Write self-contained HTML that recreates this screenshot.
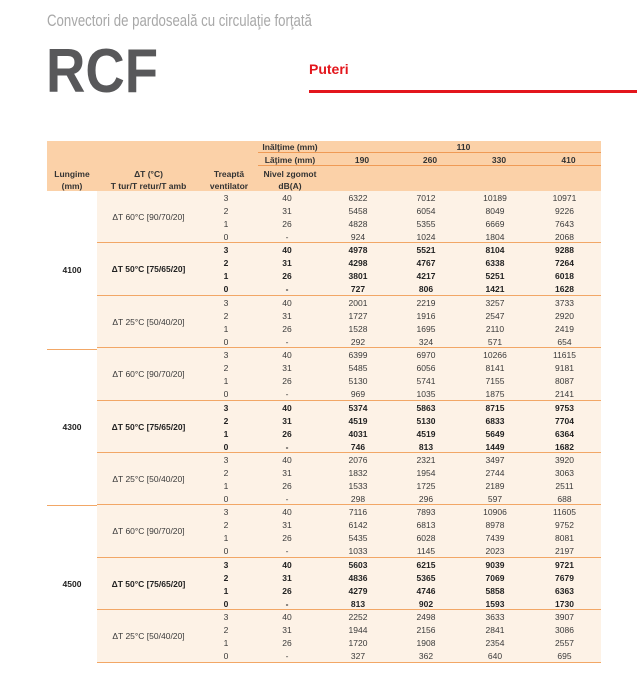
<!DOCTYPE html>
<html><head><meta charset="utf-8"><style>
body{margin:0;width:637px;height:700px;background:#fff;position:relative;overflow:hidden;font-family:"Liberation Sans",sans-serif;color:#3a3a3a}
.a{position:absolute}
.g{position:absolute;left:97px;width:504px;height:52.4px;background:#fdf2e6;border-bottom:1px solid #f2a766;box-sizing:border-box;font-size:8.5px}
.lab{position:absolute;left:0;width:103px;top:0;height:52px;line-height:52px;text-align:center}
.r{position:absolute;left:103px;height:13px;line-height:13px;display:flex}
.r span{text-align:center}
.r span:nth-child(1){width:52px}
.r span:nth-child(2){width:70px}
.r span:nth-child(3){width:72px}
.r span:nth-child(4){width:64px}
.r span:nth-child(5){width:74px}
.r span:nth-child(6){width:65px}
.b{font-weight:bold;color:#222}
.h{position:absolute;font-size:8.5px;font-weight:bold;color:#333;text-align:center}
.len{position:absolute;left:47px;width:50px;text-align:center;font-size:8.5px;font-weight:bold;color:#222}
</style></head><body>
<div class="a" style="left:47px;top:12px;font-size:16.5px;color:#a8a8a8;transform:scaleX(0.8);transform-origin:0 0;white-space:nowrap">Convectori de pardoseală cu circulaţie forţată</div>
<div class="a" style="left:46px;top:36px;font-size:62px;font-weight:bold;color:#58585a;transform:scaleX(0.88);transform-origin:0 0">RCF</div>
<div class="a" style="left:309px;top:61px;font-size:14px;font-weight:bold;color:#e3161c">Puteri</div>
<div class="a" style="left:309px;top:90px;width:328px;height:3px;background:#e3161c"></div>

<div class="a" style="left:47px;top:141px;width:554px;height:50px;background:#fbd1a8"></div>
<div class="a" style="left:258px;top:152px;width:343px;height:1px;background:#ef9a55"></div>
<div class="a" style="left:258px;top:165px;width:343px;height:1px;background:#ef9a55"></div>
<div class="h" style="left:258px;top:142px;width:64px">Inălţime (mm)</div>
<div class="h" style="left:326px;top:142px;width:275px">110</div>
<div class="h" style="left:258px;top:155px;width:64px">Lăţime (mm)</div>
<div class="h" style="left:326px;top:155px;width:72px">190</div>
<div class="h" style="left:398px;top:155px;width:64px">260</div>
<div class="h" style="left:462px;top:155px;width:74px">330</div>
<div class="h" style="left:536px;top:155px;width:65px">410</div>
<div class="h" style="left:255px;top:168px;width:70px;line-height:12px">Nivel zgomot<br>dB(A)</div>
<div class="h" style="left:200px;top:168px;width:58px;line-height:12px">Treaptă<br>ventilator</div>
<div class="h" style="left:97px;top:168px;width:103px;line-height:12px">ΔT (°C)<br>T tur/T retur/T amb</div>
<div class="h" style="left:47px;top:168px;width:50px;line-height:12px">Lungime<br>(mm)</div>

<div class="a" style="left:47px;top:349px;width:50px;height:1px;background:#f2a766"></div>
<div class="a" style="left:47px;top:505px;width:50px;height:1px;background:#f2a766"></div>
<div class="len" style="top:265px">4100</div>
<div class="len" style="top:422px">4300</div>
<div class="len" style="top:579px">4500</div>

<!-- 4100 -->
<div class="g" style="top:191px"><div class="lab">ΔT 60°C [90/70/20]</div>
<div class="r" style="top:1px"><span>3</span><span>40</span><span>6322</span><span>7012</span><span>10189</span><span>10971</span></div>
<div class="r" style="top:14px"><span>2</span><span>31</span><span>5458</span><span>6054</span><span>8049</span><span>9226</span></div>
<div class="r" style="top:27px"><span>1</span><span>26</span><span>4828</span><span>5355</span><span>6669</span><span>7643</span></div>
<div class="r" style="top:40px"><span>0</span><span>-</span><span>924</span><span>1024</span><span>1804</span><span>2068</span></div></div>
<div class="g b" style="top:243.4px"><div class="lab">ΔT 50°C [75/65/20]</div>
<div class="r" style="top:1px"><span>3</span><span>40</span><span>4978</span><span>5521</span><span>8104</span><span>9288</span></div>
<div class="r" style="top:14px"><span>2</span><span>31</span><span>4298</span><span>4767</span><span>6338</span><span>7264</span></div>
<div class="r" style="top:27px"><span>1</span><span>26</span><span>3801</span><span>4217</span><span>5251</span><span>6018</span></div>
<div class="r" style="top:40px"><span>0</span><span>-</span><span>727</span><span>806</span><span>1421</span><span>1628</span></div></div>
<div class="g" style="top:295.8px"><div class="lab">ΔT 25°C [50/40/20]</div>
<div class="r" style="top:1px"><span>3</span><span>40</span><span>2001</span><span>2219</span><span>3257</span><span>3733</span></div>
<div class="r" style="top:14px"><span>2</span><span>31</span><span>1727</span><span>1916</span><span>2547</span><span>2920</span></div>
<div class="r" style="top:27px"><span>1</span><span>26</span><span>1528</span><span>1695</span><span>2110</span><span>2419</span></div>
<div class="r" style="top:40px"><span>0</span><span>-</span><span>292</span><span>324</span><span>571</span><span>654</span></div></div>
<!-- 4300 -->
<div class="g" style="top:348.2px"><div class="lab">ΔT 60°C [90/70/20]</div>
<div class="r" style="top:1px"><span>3</span><span>40</span><span>6399</span><span>6970</span><span>10266</span><span>11615</span></div>
<div class="r" style="top:14px"><span>2</span><span>31</span><span>5485</span><span>6056</span><span>8141</span><span>9181</span></div>
<div class="r" style="top:27px"><span>1</span><span>26</span><span>5130</span><span>5741</span><span>7155</span><span>8087</span></div>
<div class="r" style="top:40px"><span>0</span><span>-</span><span>969</span><span>1035</span><span>1875</span><span>2141</span></div></div>
<div class="g b" style="top:400.6px"><div class="lab">ΔT 50°C [75/65/20]</div>
<div class="r" style="top:1px"><span>3</span><span>40</span><span>5374</span><span>5863</span><span>8715</span><span>9753</span></div>
<div class="r" style="top:14px"><span>2</span><span>31</span><span>4519</span><span>5130</span><span>6833</span><span>7704</span></div>
<div class="r" style="top:27px"><span>1</span><span>26</span><span>4031</span><span>4519</span><span>5649</span><span>6364</span></div>
<div class="r" style="top:40px"><span>0</span><span>-</span><span>746</span><span>813</span><span>1449</span><span>1682</span></div></div>
<div class="g" style="top:453px"><div class="lab">ΔT 25°C [50/40/20]</div>
<div class="r" style="top:1px"><span>3</span><span>40</span><span>2076</span><span>2321</span><span>3497</span><span>3920</span></div>
<div class="r" style="top:14px"><span>2</span><span>31</span><span>1832</span><span>1954</span><span>2744</span><span>3063</span></div>
<div class="r" style="top:27px"><span>1</span><span>26</span><span>1533</span><span>1725</span><span>2189</span><span>2511</span></div>
<div class="r" style="top:40px"><span>0</span><span>-</span><span>298</span><span>296</span><span>597</span><span>688</span></div></div>
<!-- 4500 -->
<div class="g" style="top:505.4px"><div class="lab">ΔT 60°C [90/70/20]</div>
<div class="r" style="top:1px"><span>3</span><span>40</span><span>7116</span><span>7893</span><span>10906</span><span>11605</span></div>
<div class="r" style="top:14px"><span>2</span><span>31</span><span>6142</span><span>6813</span><span>8978</span><span>9752</span></div>
<div class="r" style="top:27px"><span>1</span><span>26</span><span>5435</span><span>6028</span><span>7439</span><span>8081</span></div>
<div class="r" style="top:40px"><span>0</span><span>-</span><span>1033</span><span>1145</span><span>2023</span><span>2197</span></div></div>
<div class="g b" style="top:557.8px"><div class="lab">ΔT 50°C [75/65/20]</div>
<div class="r" style="top:1px"><span>3</span><span>40</span><span>5603</span><span>6215</span><span>9039</span><span>9721</span></div>
<div class="r" style="top:14px"><span>2</span><span>31</span><span>4836</span><span>5365</span><span>7069</span><span>7679</span></div>
<div class="r" style="top:27px"><span>1</span><span>26</span><span>4279</span><span>4746</span><span>5858</span><span>6363</span></div>
<div class="r" style="top:40px"><span>0</span><span>-</span><span>813</span><span>902</span><span>1593</span><span>1730</span></div></div>
<div class="g" style="top:610.2px"><div class="lab">ΔT 25°C [50/40/20]</div>
<div class="r" style="top:1px"><span>3</span><span>40</span><span>2252</span><span>2498</span><span>3633</span><span>3907</span></div>
<div class="r" style="top:14px"><span>2</span><span>31</span><span>1944</span><span>2156</span><span>2841</span><span>3086</span></div>
<div class="r" style="top:27px"><span>1</span><span>26</span><span>1720</span><span>1908</span><span>2354</span><span>2557</span></div>
<div class="r" style="top:40px"><span>0</span><span>-</span><span>327</span><span>362</span><span>640</span><span>695</span></div></div>
</body></html>
